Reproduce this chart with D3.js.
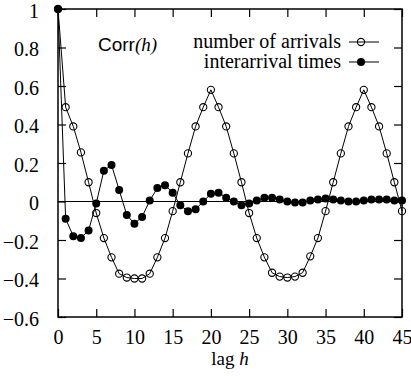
<!DOCTYPE html>
<html>
<head>
<meta charset="utf-8">
<script src="https://cdn.jsdelivr.net/npm/d3@7"></script>
<style>
  body { margin: 0; background: #fff; }
  text { font-family: "Liberation Serif", "DejaVu Serif", serif; fill: #000; }
</style>
</head>
<body>
<div class="vis-corr"></div>
<script>
// lags 0..45
const lags = d3.range(0, 46);
const arrivals = [1.0, 0.49, 0.39, 0.255, 0.10, -0.06, -0.19, -0.29, -0.375, -0.395,
  -0.40, -0.40, -0.375, -0.29, -0.19, -0.05, 0.10, 0.25, 0.39, 0.49,
  0.58, 0.49, 0.39, 0.25, 0.10, -0.06, -0.19, -0.29, -0.37, -0.39,
  -0.395, -0.39, -0.37, -0.285, -0.19, -0.05, 0.10, 0.25, 0.39, 0.49,
  0.58, 0.49, 0.39, 0.25, 0.10, -0.05];
const interarrival = [1.0, -0.09, -0.18, -0.19, -0.15, -0.01, 0.16, 0.19, 0.06, -0.07,
  -0.115, -0.08, 0.005, 0.07, 0.085, 0.045, -0.02, -0.05, -0.04, 0.0,
  0.04, 0.045, 0.02, 0.0, -0.02, -0.01, 0.005, 0.02, 0.02, 0.01,
  0.0, -0.005, -0.005, 0.005, 0.01, 0.015, 0.01, 0.005, 0.0, 0.0,
  0.005, 0.01, 0.01, 0.01, 0.005, 0.005];
const xTicks = [0, 5, 10, 15, 20, 25, 30, 35, 40, 45];
const yTicks = [-0.6, -0.4, -0.2, 0, 0.2, 0.4, 0.6, 0.8, 1];
const seriesNames = ["number of arrivals", "interarrival times"];

const W = 411, H = 377;
const margin = { top: 9, right: 9, bottom: 60, left: 58 };
const width = W - margin.left - margin.right;
const height = H - margin.top - margin.bottom;

const svg = d3.select(".vis-corr")
    .append("svg")
    .attr("width", W)
    .attr("height", H)
    .append("g")
    .attr("transform", "translate(" + margin.left + "," + margin.top + ")");

const x = d3.scaleLinear().domain([0, 45]).range([0, width]);
const y = d3.scaleLinear().domain([-0.6, 1]).range([height, 0]);
const fmt = d3.format(".1~f");

// Axes (ticks pointing inward on all four sides)
svg.append("g")
    .attr("class", "x axis")
    .attr("transform", "translate(0," + height + ")")
    .call(d3.axisBottom(x).tickValues(xTicks).tickSizeInner(-8).tickSizeOuter(0).tickPadding(13).tickFormat(d3.format("d")));
svg.append("g")
    .attr("class", "x axis top")
    .call(d3.axisTop(x).tickValues(xTicks).tickSizeInner(-8).tickSizeOuter(0).tickFormat(""));
svg.append("g")
    .attr("class", "y axis")
    .call(d3.axisLeft(y).tickValues(yTicks).tickSizeInner(-8).tickSizeOuter(0).tickPadding(19).tickFormat(fmt));
svg.append("g")
    .attr("class", "y axis right")
    .attr("transform", "translate(" + width + ",0)")
    .call(d3.axisRight(y).tickValues(yTicks).tickSizeInner(-8).tickSizeOuter(0).tickFormat(""));

svg.selectAll(".axis .domain").remove();
svg.selectAll(".axis line").attr("stroke", "#000").attr("stroke-width", 1.2);
svg.selectAll(".axis text").style("font-size", "20px").attr("fill", "#000");
svg.selectAll(".y.axis text").attr("dy", "0.4em");

// frame
svg.append("rect")
    .attr("width", width)
    .attr("height", height)
    .attr("fill", "none")
    .attr("stroke", "#000")
    .attr("stroke-width", 1.5);

// zero line
svg.append("line")
    .attr("x1", 0).attr("x2", width)
    .attr("y1", y(0)).attr("y2", y(0))
    .attr("stroke", "#000").attr("stroke-width", 1);

const line = d3.line()
    .x((d, i) => x(lags[i]))
    .y(d => y(d));

// number of arrivals: open circles
svg.append("path")
    .datum(arrivals)
    .attr("d", line)
    .attr("fill", "none")
    .attr("stroke", "#000")
    .attr("stroke-width", 1);
svg.selectAll(".arr")
    .data(arrivals)
    .enter()
    .append("circle")
    .attr("class", "arr")
    .attr("cx", (d, i) => x(lags[i]))
    .attr("cy", d => y(d))
    .attr("r", 3.6)
    .attr("fill", "none")
    .attr("stroke", "#000")
    .attr("stroke-width", 1.1);

// interarrival times: filled circles
svg.append("path")
    .datum(interarrival)
    .attr("d", line)
    .attr("fill", "none")
    .attr("stroke", "#000")
    .attr("stroke-width", 1);
svg.selectAll(".inter")
    .data(interarrival)
    .enter()
    .append("circle")
    .attr("class", "inter")
    .attr("cx", (d, i) => x(lags[i]))
    .attr("cy", d => y(d))
    .attr("r", 4)
    .attr("fill", "#000");

// x label
const xl = svg.append("text")
    .attr("x", width / 2)
    .attr("y", height + 48)
    .attr("text-anchor", "middle")
    .style("font-size", "19px");
xl.append("tspan").text("lag ");
xl.append("tspan").style("font-style", "italic").text("h");

// Corr(h) label
const cl = svg.append("text")
    .attr("x", 40)
    .attr("y", 42)
    .style("font-size", "19px");
cl.append("tspan").style("font-family", "'Liberation Sans', sans-serif").text("Corr");
cl.append("tspan").style("font-style", "italic").text("(h)");

// legend
const legend = svg.append("g")
    .attr("transform", "translate(" + (283) + ", 33)");
const legends = legend.selectAll(".legend_item")
    .data(seriesNames)
    .enter()
    .append("g")
    .attr("class", "legend_item")
    .attr("transform", (d, i) => "translate(0," + i * 20 + ")");
legends.append("text")
    .attr("x", 0)
    .attr("y", 6)
    .attr("text-anchor", "end")
    .style("font-size", "20px")
    .text(d => d);
legends.append("line")
    .attr("x1", 8).attr("x2", 38)
    .attr("stroke", "#000").attr("stroke-width", 1);
legends.append("circle")
    .attr("cx", 20)
    .attr("r", (d, i) => i === 0 ? 3.6 : 4)
    .attr("fill", (d, i) => i === 0 ? "none" : "#000")
    .attr("stroke", "#000")
    .attr("stroke-width", (d, i) => i === 0 ? 1.1 : 0);
</script>
</body>
</html>
